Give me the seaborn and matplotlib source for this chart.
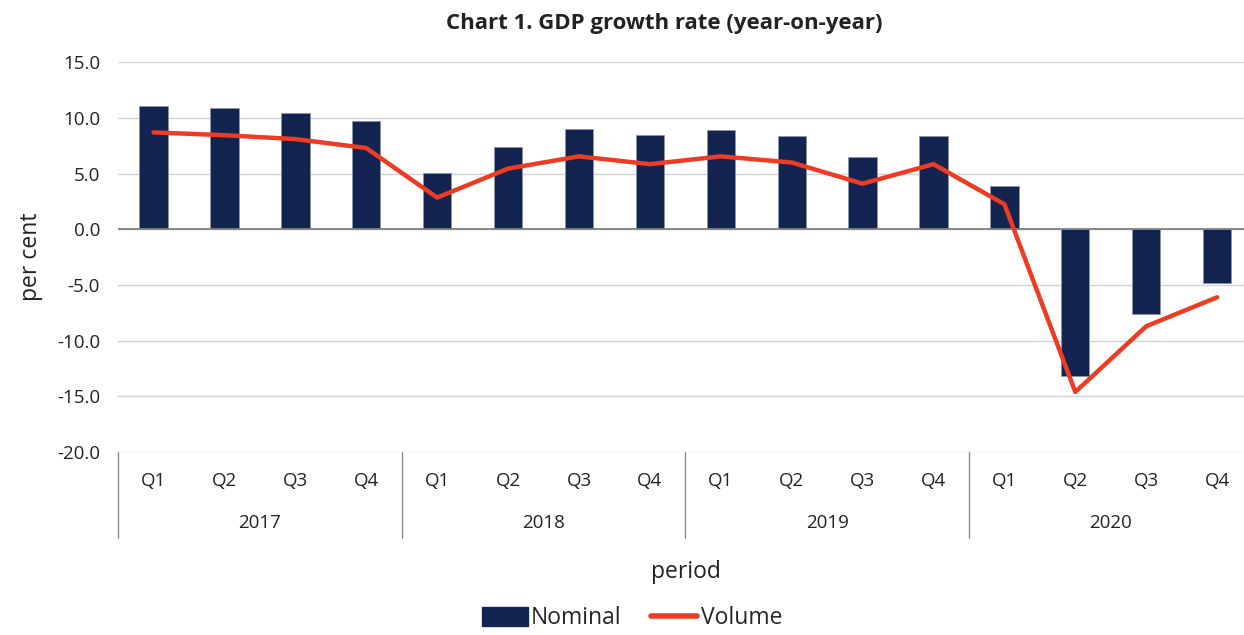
import numpy as np
import pandas as pd
import matplotlib
matplotlib.use("Agg")
import matplotlib.pyplot as plt
import matplotlib.transforms as mtransforms
from matplotlib.patches import Patch
from matplotlib.lines import Line2D
import seaborn as sns

years = ['2017', '2018', '2019', '2020']
quarters = ['Q1', 'Q2', 'Q3', 'Q4']
nominal = [11.1, 10.85, 10.4, 9.7, 5.1, 7.35, 9.0, 8.5, 8.95, 8.35, 6.45, 8.35, 3.85, -13.2, -7.6, -4.8]
volume = [8.7, 8.45, 8.1, 7.3, 2.85, 5.45, 6.55, 5.85, 6.55, 6.0, 4.1, 5.85, 2.25, -14.6, -8.7, -6.1]

periods = [f'{y}{q}' for y in years for q in quarters]
df = pd.DataFrame({'period': periods, 'pos': np.arange(len(periods)),
                   'Nominal': nominal, 'Volume': volume})

sns.set_style('white')
plt.rcParams['font.family'] = ['Open Sans', 'DejaVu Sans']

bar_color = '#12244f'
line_color = '#ee3b24'
text_color = '#222222'

fig = plt.figure(figsize=(12.44, 6.35), dpi=100)
ax = fig.add_axes([0.0949, 0.288, 0.912, 0.614])

sns.barplot(data=df, x='pos', y='Nominal', color=bar_color, width=0.4,
            edgecolor='#8a94aa', linewidth=0.6, saturation=1, ax=ax, zorder=2)
sns.lineplot(data=df, x='pos', y='Volume', color=line_color, linewidth=3.2,
             solid_capstyle='round', ax=ax, zorder=3)

ax.set_ylim(-20, 15)
ax.set_xlim(-0.5, len(periods) - 0.5)
ax.set_yticks(np.arange(-20, 16, 5))
ax.set_yticklabels([f'{v:.1f}' for v in np.arange(-20, 16, 5)], fontsize=13.5, color=text_color)
ax.tick_params(axis='y', length=0, pad=13)
ax.yaxis.grid(True, color='#d0d3d6', linewidth=1)
ax.axhline(0, color='#7f7f7f', linewidth=1.3, zorder=2.5)
for s in ax.spines.values():
    s.set_visible(False)

# multi-level category axis
ax.set_xticks([])
ax.set_xlabel('')
ax.set_ylabel('per cent', fontsize=16.5, labelpad=10, color=text_color)
trans = mtransforms.blended_transform_factory(ax.transData, ax.transAxes)
for i, p in enumerate(periods):
    ax.text(i, -0.075, p[4:], transform=trans, ha='center', va='center',
            fontsize=13.5, color=text_color)
for j, y in enumerate(years):
    ax.text(j * 4 + 1.5, -0.183, y, transform=trans, ha='center', va='center',
            fontsize=13.5, color=text_color)
for k in range(len(years) + 1):
    ax.plot([k * 4 - 0.5, k * 4 - 0.5], [0, -0.22], transform=trans,
            color='#8c8c8c', linewidth=1, clip_on=False)

fig.text(0.551, 0.099, 'period', ha='center', va='center', fontsize=16.5, color=text_color)
fig.text(0.534, 0.963, 'Chart 1. GDP growth rate (year-on-year)', ha='center', va='center',
         fontsize=16, fontweight='bold', color=text_color)

handles = [Patch(facecolor=bar_color, edgecolor=bar_color),
           Line2D([0], [0], color=line_color, linewidth=4, solid_capstyle='round')]
fig.legend(handles, ['Nominal', 'Volume'], loc='center', bbox_to_anchor=(0.508, 0.026),
           ncol=2, frameon=False, fontsize=16.5, handlelength=2.0, handleheight=0.9,
           handletextpad=0.15, columnspacing=1.3)

fig.savefig('out.png', dpi=100)
